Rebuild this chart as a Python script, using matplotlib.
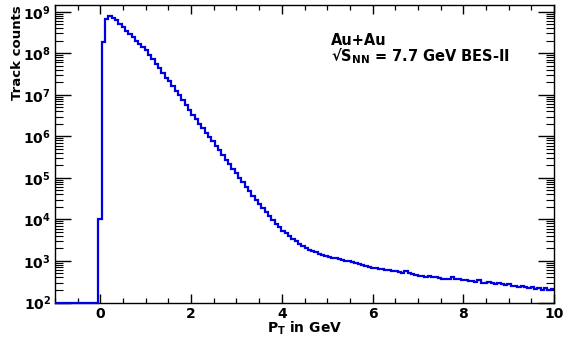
import numpy as np
import matplotlib
matplotlib.use("Agg")
import matplotlib.pyplot as plt
from matplotlib.ticker import FixedLocator, LogLocator, FuncFormatter, NullFormatter

# Track pT spectrum, Au+Au at 7.7 GeV (BES-II); equal-width bins over the axis range
pt_min, pt_max = -1.0, 10.0
track_counts = [
    0, 0, 0, 0, 0, 0, 0, 0, 0, 0, 0, 0, 0,
    1.0e4, 1.9e8, 6.5e8, 7.9e8, 7.2e8, 6.2e8, 5.1e8, 4.3e8, 3.5e8, 2.9e8,
    2.4e8, 2.0e8, 1.7e8, 1.45e8, 1.17e8, 9.3e7, 7.2e7, 5.6e7, 4.3e7, 3.3e7,
    2.6e7, 2.1e7, 1.6e7, 1.26e7, 9.8e6, 7.6e6, 5.8e6, 4.4e6, 3.3e6, 2.6e6,
    2.0e6, 1.55e6, 1.2e6, 9.5e5, 7.6e5, 5.9e5, 4.6e5, 3.5e5, 2.75e5, 2.1e5,
    1.66e5, 1.29e5, 1.0e5, 7.8e4, 6.0e4, 4.7e4, 3.7e4, 2.95e4, 2.3e4, 1.86e4,
    1.48e4, 1.2e4, 9.8e3, 7.9e3, 6.5e3, 5.4e3, 4.6e3, 3.9e3, 3.4e3, 2.95e3,
    2.6e3, 2.3e3, 2.05e3, 1.86e3, 1.74e3, 1.62e3, 1.48e3, 1.38e3, 1.32e3, 1.26e3,
    1.2e3, 1.15e3, 1.1e3, 1.05e3, 1.02e3, 1.0e3, 930, 890, 830, 790,
    760, 720, 690, 660, 630, 630, 600, 590, 575, 575,
    540, 525, 575, 500, 480, 455, 435, 425, 415, 435,
    405, 400, 380, 370, 365, 370, 400, 370, 365, 355,
    345, 330, 325, 315, 340, 300, 295, 310, 290, 280,
    295, 275, 265, 275, 255, 250, 240, 245, 235, 220,
    230, 215, 225, 200, 220, 205, 215,
]
y_range = (1e2, 1.45e9)
x_major = [0, 2, 4, 6, 8, 10]
y_decades = [2, 3, 4, 5, 6, 7, 8, 9]
system_label = "Au+Au\n\u221a$S_{NN}$ = 7.7 GeV BES-II"

plt.rcParams["font.family"] = "DejaVu Sans"
plt.rcParams["font.weight"] = "bold"
plt.rcParams["mathtext.default"] = "bf"


def draw_spectrum():
    fig = plt.figure(figsize=(5.68, 3.45), dpi=100)
    ax = fig.add_axes([55 / 568, 1 - 302.5 / 345, 499 / 568, 297.5 / 345])

    edges = np.linspace(pt_min, pt_max, len(track_counts) + 1)
    # empty bins sit on the frame floor, like ROOT does
    shown = np.maximum(np.asarray(track_counts, dtype=float), y_range[0])
    ax.stairs(shown, edges, baseline=None, color="#0000e0", lw=1.6,
              zorder=3, clip_on=False)

    ax.set_yscale("log")
    ax.set_xlim(pt_min, pt_max)
    ax.set_ylim(*y_range)

    ax.xaxis.set_major_locator(FixedLocator(x_major))
    ax.xaxis.set_minor_locator(FixedLocator(np.arange(-1.0, 10.01, 0.5)))
    ax.yaxis.set_major_locator(FixedLocator([10.0 ** d for d in y_decades]))
    ax.yaxis.set_minor_locator(LogLocator(base=10, subs=np.arange(2, 10), numticks=20))
    ax.yaxis.set_major_formatter(FuncFormatter(lambda v, p: r"$10^{%d}$" % round(np.log10(v))))
    ax.yaxis.set_minor_formatter(NullFormatter())

    ax.tick_params(which="both", direction="in", top=True, right=True,
                   colors="black", labelsize=10)
    ax.tick_params(axis="x", which="major", length=6.5, width=1.0, pad=3)
    ax.tick_params(axis="x", which="minor", length=3.3, width=0.9)
    ax.tick_params(axis="y", which="major", length=11.5, width=1.0, pad=3)
    ax.tick_params(axis="y", which="minor", length=5.8, width=0.8)
    for lab in ax.get_xticklabels() + ax.get_yticklabels():
        lab.set_fontweight("bold")

    for sp in ax.spines.values():
        sp.set_linewidth(1.0)
        sp.set_color("black")

    ax.set_xlabel(r"$P_T$ in GeV", fontsize=10, fontweight="bold")
    ax.xaxis.set_label_coords(0.5, -0.058)
    ax.set_ylabel("Track counts", fontsize=9.5, fontweight="bold", loc="top")
    ax.yaxis.set_label_coords(-0.062, 1.0)

    fig.text(331 / 568, 1 - 33 / 345, system_label, fontsize=10.5,
             fontweight="bold", va="top", ha="left", linespacing=0.9)

    fig.savefig("out.png", dpi=100)


if __name__ == "__main__":
    draw_spectrum()
